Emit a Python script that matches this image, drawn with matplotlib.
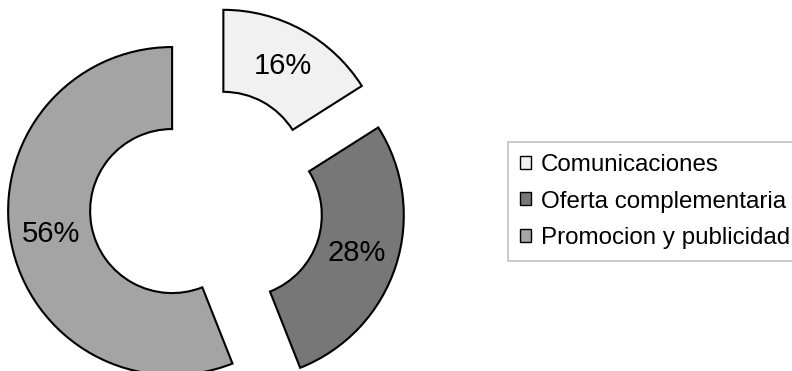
import matplotlib
matplotlib.use("Agg")
import matplotlib.pyplot as plt

# Share of budget by category
categories = ["Comunicaciones", "Oferta complementaria", "Promocion y publicidad"]
shares = [16, 28, 56]
colors = ["#f1f1f1", "#777777", "#a4a4a4"]

plt.rcParams["font.family"] = ["Liberation Sans", "DejaVu Sans"]

W, H = 792, 371
fig = plt.figure(figsize=(W / 100, H / 100), dpi=100)
ax = fig.add_axes([0, 0, 1, 1])

radius = 164
ring = 82
offset = 35
center = (206.5, H - 204.5)

wedges, texts, autotexts = ax.pie(
    shares,
    colors=colors,
    startangle=90,
    counterclock=False,
    radius=radius,
    center=center,
    explode=[offset] * len(shares),
    frame=True,
    autopct="%d%%",
    pctdistance=0.75,
    wedgeprops=dict(width=ring, edgecolor="black", linewidth=1.5),
    textprops=dict(fontsize=21, color="black"),
)
ax.set_xlim(0, W)
ax.set_ylim(0, H)
ax.set_axis_off()

leg = fig.legend(
    wedges,
    categories,
    loc="upper left",
    bbox_to_anchor=(508 / W, 1 - 142 / H),
    borderaxespad=0,
    fontsize=17.4,
    frameon=True,
    fancybox=False,
    handlelength=0.45,
    handleheight=0.45,
    handletextpad=0.42,
    labelspacing=0.6,
    borderpad=0.5,
)
leg.get_frame().set_edgecolor("#b0b0b0")
leg.get_frame().set_linewidth(1.2)
for h in leg.legend_handles:
    h.set_linewidth(1.0)

fig.savefig("out.png", dpi=100)
